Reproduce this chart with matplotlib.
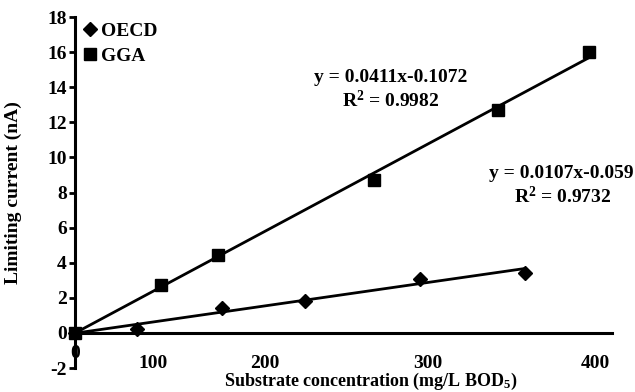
import numpy as np
import matplotlib
matplotlib.use("Agg")
import matplotlib.pyplot as plt


# values
OECD_CONC = [0, 48, 113, 177, 265, 346]
OECD_CURRENT = [0, 0.23, 1.43, 1.83, 3.09, 3.43]
GGA_CONC = [0, 66, 110, 230, 325, 395]
GGA_CURRENT = [0, 2.74, 4.46, 8.74, 12.7, 16.0]

Y_TICKS = [-2, 0, 2, 4, 6, 8, 10, 12, 14, 16, 18]
X_TICK_LABELS = ["0", "100", "200", "300", "400"]
# where the reference prints its x labels (they are not at their values)
X_TICK_SPOTS = [0, 60, 146, 271, 400]
X_TICK_LEVELS = [-1.15, -1.72, -1.72, -1.72, -1.72]

GGA_EQUATION = "y = 0.0411x-0.1072"
GGA_R2 = "R$^{2}$ = 0.9982"
OECD_EQUATION = "y = 0.0107x-0.059"
OECD_R2 = "R$^{2}$ = 0.9732"

plt.rcParams["font.family"] = ["Liberation Serif", "DejaVu Serif"]
plt.rcParams["font.weight"] = "bold"
plt.rcParams["axes.unicode_minus"] = False
plt.rcParams["mathtext.fontset"] = "custom"
plt.rcParams["mathtext.rm"] = "Liberation Serif:bold"
plt.rcParams["mathtext.it"] = "Liberation Serif:bold"
plt.rcParams["mathtext.bf"] = "Liberation Serif:bold"


def main():
    fig = plt.figure(figsize=(6.35, 3.92), dpi=100)
    ax = fig.add_axes([0.1181, 0.0612, 0.8457, 0.8954])
    ax.set_xlim(0, 413)
    ax.set_ylim(-2, 18)

    for xs, ys in [(OECD_CONC, OECD_CURRENT), (GGA_CONC, GGA_CURRENT)]:
        slope, icpt = np.polyfit(xs, ys, 1)
        fit_x = np.array([0, xs[-1]])
        ax.plot(fit_x, slope * fit_x + icpt, color="black", linewidth=2.0,
                solid_capstyle="butt", zorder=2)

    ax.plot(OECD_CONC, OECD_CURRENT, linestyle="none", marker="D",
            markersize=7, color="black", label="OECD", zorder=3, clip_on=False)
    ax.plot(GGA_CONC, GGA_CURRENT, linestyle="none", marker="s",
            markersize=8, color="black", label="GGA", zorder=3, clip_on=False)

    for side in ["top", "right"]:
        ax.spines[side].set_visible(False)
    ax.spines["bottom"].set_position(("data", 0))
    ax.spines["bottom"].set_linewidth(2.2)
    ax.spines["left"].set_linewidth(2.2)

    ax.set_yticks(Y_TICKS)
    ax.tick_params(axis="y", direction="out", length=4, width=2, pad=2,
                   labelsize=14)
    ax.set_xticks([])

    for label, spot, level in zip(X_TICK_LABELS, X_TICK_SPOTS, X_TICK_LEVELS):
        ax.text(spot, level, label, ha="center", va="center", fontsize=14,
                fontweight="bold")

    ax.text(243, 14.57, GGA_EQUATION, ha="center", va="center", fontsize=14)
    ax.text(243, 13.26, GGA_R2, ha="center", va="center", fontsize=14)
    ax.text(374, 9.09, OECD_EQUATION, ha="center", va="center", fontsize=14)
    ax.text(375, 7.77, OECD_R2, ha="center", va="center", fontsize=14)

    ax.set_ylabel("Limiting current (nA)", fontsize=14, fontweight="bold")
    ax.yaxis.set_label_coords(-0.099, 0.5)
    ax.set_xlabel("Substrate concentration (mg/L BOD$_{5}$)", fontsize=13,
                  fontweight="bold")
    ax.xaxis.set_label_coords(0.551, -0.037)
    ax.xaxis.label.set_va("center")

    ax.legend(loc="upper left", bbox_to_anchor=(-0.009, 1.024), frameon=False,
              fontsize=14, handlelength=0.6, handletextpad=0.3,
              labelspacing=0.4, borderaxespad=0.3)

    fig.savefig("out.png", dpi=100)
    plt.close(fig)


if __name__ == "__main__":
    main()
